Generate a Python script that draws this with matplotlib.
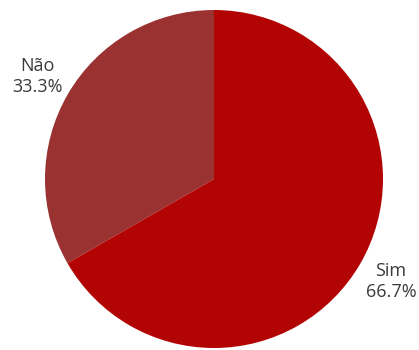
import matplotlib
matplotlib.use("Agg")
import matplotlib.pyplot as plt
import numpy as np

labels = ["Não", "Sim"]
values = [33.3, 66.7]
colors = ["#9a3232", "#b30404"]

fig = plt.figure(figsize=(4.19, 3.5), dpi=100)
ax = fig.add_axes([0, 0, 1, 1])
wedges, texts = ax.pie(values, colors=colors, startangle=90, counterclock=True,
                       radius=1.0, wedgeprops=dict(linewidth=0),
                       labels=[f"{l}\n{v:.1f}%" for l, v in zip(labels, values)],
                       labeldistance=1.21,
                       textprops=dict(fontsize=13, family=["Open Sans", "DejaVu Sans"],
                                      color="#3a3a3a", linespacing=1.2))
for t in texts:
    t.set_ha("center")
    t.set_va("center")
cx, cy, r = 214, 179, 169
ax.set_xlim((0 - cx) / r, (419 - cx) / r)
ax.set_ylim((cy - 350) / r, (cy - 0) / r)
ax.set_aspect("auto")
ax.axis("off")
fig.savefig("out.png", dpi=100)
